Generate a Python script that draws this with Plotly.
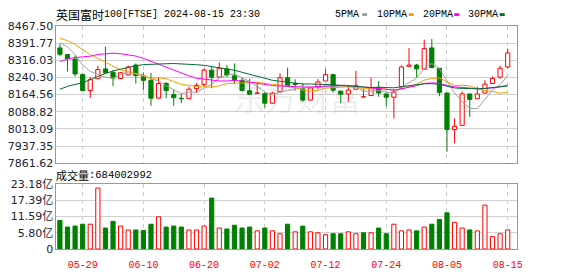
import plotly.graph_objects as go

# ---------------- data ----------------
dates = ["05-23", "05-24", "05-28", "05-29", "05-30", "05-31", "06-03", "06-04", "06-05", "06-06",
         "06-07", "06-10", "06-11", "06-12", "06-13", "06-14", "06-17", "06-18", "06-19", "06-20",
         "06-21", "06-24", "06-25", "06-26", "06-27", "06-28", "07-01", "07-02", "07-03", "07-04",
         "07-05", "07-08", "07-09", "07-10", "07-11", "07-12", "07-15", "07-16", "07-17", "07-18",
         "07-19", "07-22", "07-23", "07-24", "07-25", "07-26", "07-29", "07-30", "07-31", "08-01",
         "08-02", "08-05", "08-06", "08-07", "08-08", "08-09", "08-12", "08-13", "08-14", "08-15"]

opens = [8370.7, 8341.3, 8321.5, 8252.9, 8182.7, 8234.8, 8278.2, 8262.6, 8236.0, 8251.6,
         8295.0, 8244.5, 8227.7, 8149.0, 8213.7, 8164.6, 8148.5, 8146.5, 8191.0, 8209.6,
         8272.7, 8241.6, 8278.2, 8247.4, 8227.7, 8181.4, 8170.0, 8168.8, 8126.7, 8177.0,
         8239.0, 8213.7, 8191.0, 8140.5, 8199.5, 8224.7, 8252.9, 8180.0, 8167.5, 8188.5,
         8154.0, 8160.4, 8196.9, 8167.5, 8153.2, 8199.5, 8289.5, 8295.0, 8276.9, 8370.7,
         8281.0, 8171.7, 8010.2, 8028.7, 8167.5, 8146.5, 8171.7, 8213.7, 8241.6, 8286.6]
highs = [8387.6, 8343.0, 8337.0, 8258.4, 8241.6, 8292.0, 8376.2, 8272.7, 8264.0, 8293.0,
         8302.0, 8262.6, 8260.0, 8241.6, 8220.5, 8185.6, 8167.5, 8199.5, 8216.3, 8281.0,
         8286.6, 8306.4, 8295.0, 8302.0, 8241.6, 8234.8, 8219.0, 8174.0, 8177.0, 8258.4,
         8283.6, 8231.9, 8216.3, 8195.0, 8233.0, 8278.2, 8253.5, 8181.0, 8205.4, 8269.7,
         8188.5, 8239.0, 8224.7, 8170.0, 8188.5, 8293.7, 8370.7, 8300.0, 8407.3, 8409.9,
         8282.0, 8173.0, 8059.4, 8178.4, 8168.0, 8199.5, 8227.7, 8244.5, 8292.0, 8367.8]
lows = [8334.1, 8266.8, 8244.5, 8181.5, 8149.0, 8233.5, 8258.0, 8202.4, 8234.0, 8250.0,
        8213.7, 8185.6, 8115.3, 8147.0, 8149.0, 8115.3, 8126.7, 8145.0, 8171.7, 8199.5,
        8192.7, 8240.0, 8241.6, 8210.8, 8181.0, 8165.0, 8169.0, 8107.0, 8125.0, 8171.7,
        8202.0, 8182.7, 8132.2, 8139.0, 8188.5, 8224.0, 8174.0, 8126.7, 8132.2, 8187.0,
        8153.0, 8159.0, 8154.9, 8112.8, 8059.4, 8188.5, 8289.0, 8241.6, 8276.0, 8282.0,
        8157.4, 7912.1, 7950.0, 8027.0, 8066.5, 8145.0, 8170.0, 8212.0, 8234.8, 8281.0]
closes = [8342.5, 8323.2, 8255.9, 8182.7, 8230.6, 8275.2, 8261.3, 8237.4, 8261.3, 8286.0,
          8248.7, 8227.7, 8149.0, 8213.7, 8182.7, 8150.7, 8146.0, 8188.5, 8205.4, 8272.7,
          8241.6, 8281.0, 8251.6, 8230.6, 8182.7, 8165.8, 8172.0, 8126.7, 8171.7, 8239.0,
          8203.7, 8209.6, 8140.5, 8194.0, 8220.5, 8252.9, 8184.3, 8165.8, 8184.3, 8205.4,
          8155.0, 8195.3, 8171.7, 8153.2, 8175.9, 8286.6, 8295.0, 8278.2, 8367.8, 8283.6,
          8174.2, 8010.2, 8024.5, 8167.5, 8143.5, 8167.5, 8210.8, 8236.0, 8281.0, 8348.4]
# closes of the 29 sessions before the window, used only for the moving averages
lead_closes = [7923.8, 7995.6, 7965.5, 7820.4, 7848.0, 7877.1, 7895.9, 8023.9, 8044.8, 8040.4,
               8078.9, 8139.8, 8147.0, 8144.1, 8121.2, 8172.2, 8213.5, 8313.7, 8354.1, 8381.4,
               8433.8, 8415.0, 8428.1, 8445.8, 8438.7, 8420.3, 8424.2, 8416.5, 8370.3]
# volume in 亿 (1e8)
volumes = [10.2, 7.84, 8.2, 8.86, 8.86, 21.8, 7.5, 9.9, 8.2, 6.8,
           6.8, 6.6, 8.86, 11.5, 7.84, 8.2, 7.84, 6.8, 6.8, 8.2,
           18.2, 7.5, 7.16, 8.5, 7.5, 7.84, 6.5, 7.5, 6.5, 5.45,
           8.86, 6.14, 8.18, 6.14, 5.8, 5.11, 5.45, 5.45, 6.14, 5.45,
           5.8, 5.8, 7.5, 5.45, 8.86, 6.48, 6.82, 6.48, 7.84, 8.86,
           10.57, 12.95, 9.55, 7.5, 6.82, 6.48, 15.68, 4.43, 5.45, 6.84002992]

price_ticks = [7861.62, 7937.35, 8013.09, 8088.82, 8164.56, 8240.30, 8316.03, 8391.77, 8467.50]
vol_ticks = [0, 5.80, 11.59, 17.39, 23.18]
ma_periods = [5, 10, 20, 30]
ma_names = ["5PMA", "10PMA", "20PMA", "30PMA"]
ma_colors = ["#a0a0a0", "#f5a000", "#ff00ff", "#006e32"]
title_cn = "英国富时"
title_rest = "100[FTSE] 2024-08-15 23:30"

RED = "#ff0000"
GREEN = "#008000"

# ---------------- figure ----------------
W, H = 578, 276
n = len(dates)
xi = list(range(n))
fig = go.Figure()

# wicks (split above/below body so hollow bodies stay hollow)
for up, col in [(True, RED), (False, GREEN)]:
    xs, ys = [], []
    for i in range(n):
        is_up = closes[i] >= opens[i]
        if is_up != up:
            continue
        top = max(opens[i], closes[i])
        bot = min(opens[i], closes[i])
        xs += [xi[i], xi[i], None, xi[i], xi[i], None]
        ys += [highs[i], top, None, bot, lows[i], None]
    fig.add_trace(go.Scatter(x=xs, y=ys, mode="lines", line=dict(color=col, width=1),
                             hoverinfo="skip", showlegend=False, xaxis="x", yaxis="y"))

# bodies
body_base = [min(o, c) for o, c in zip(opens, closes)]
body_h = [abs(c - o) for o, c in zip(opens, closes)]
body_fill = ["white" if c >= o else GREEN for o, c in zip(opens, closes)]
body_line = [RED if c >= o else GREEN for o, c in zip(opens, closes)]
fig.add_trace(go.Bar(x=xi, y=body_h, base=body_base, width=0.55,
                     marker=dict(color=body_fill, line=dict(color=body_line, width=1)),
                     showlegend=False, hoverinfo="skip", xaxis="x", yaxis="y"))

# moving averages
all_closes = lead_closes + closes
L = len(lead_closes)
for p, name, col in zip(ma_periods, ma_names, ma_colors):
    vals = []
    for i in range(n):
        k = L + i
        vals.append(sum(all_closes[k - p + 1:k + 1]) / p)
    fig.add_trace(go.Scatter(x=xi, y=vals, mode="lines", name=name,
                             line=dict(color=col, width=1), hoverinfo="skip",
                             showlegend=False, xaxis="x", yaxis="y"))

# volume
prev = [lead_closes[-1]] + closes[:-1]
v_fill = ["white" if c >= pc else GREEN for c, pc in zip(closes, prev)]
v_line = [RED if c >= pc else GREEN for c, pc in zip(closes, prev)]
fig.add_trace(go.Bar(x=xi, y=volumes, width=0.55,
                     marker=dict(color=v_fill, line=dict(color=v_line, width=1)),
                     showlegend=False, hoverinfo="skip", xaxis="x2", yaxis="y2"))

xdom = [57 / W, 522 / W]
tick_pos = xi[3::8]
tick_txt = dates[3::8]
axis_common = dict(showline=True, mirror=True, linecolor="#999999", linewidth=1, zeroline=False)

fig.update_layout(
    width=W, height=H, margin=dict(l=0, r=0, t=0, b=0),
    paper_bgcolor="white", plot_bgcolor="white", barmode="overlay",
    showlegend=False,
    xaxis=dict(domain=xdom, anchor="y", range=[-0.46, n - 1 + 1.17],
               tickvals=tick_pos, showticklabels=False, ticks="",
               showgrid=True, gridcolor="#cccccc", griddash="4px,4px", gridwidth=1, **axis_common),
    yaxis=dict(domain=[1 - 165 / H, 1 - 21 / H], anchor="x", range=[price_ticks[0], price_ticks[-1]],
               tickvals=price_ticks, ticktext=[f"{v:.2f}" for v in price_ticks], ticks="",
               tickfont=dict(family="DejaVu Sans", size=11, color="#222233"),
               showgrid=True, gridcolor="#d0d0d0", gridwidth=1, **axis_common),
    xaxis2=dict(domain=xdom, anchor="y2", matches="x",
                tickvals=tick_pos, ticktext=tick_txt, ticks="", tickangle=0,
                ticklabelstandoff=6,
                tickfont=dict(family="Liberation Mono", size=10, color=RED),
                showgrid=True, gridcolor="#cccccc", griddash="4px,4px", gridwidth=1, **axis_common),
    yaxis2=dict(domain=[1 - 255 / H, 1 - 187 / H], anchor="x2", range=[0, vol_ticks[-1]],
                tickvals=vol_ticks, ticktext=["0"] + [f"{v:.2f}亿" for v in vol_ticks[1:]], ticks="",
                tickfont=dict(family="DejaVu Sans, Noto Sans CJK SC", size=11, color="#222233"),
                showgrid=True, gridcolor="#d0d0d0", gridwidth=1, **axis_common),
)

ann = []
def px_ann(text, x, y, family, size, color="#000000", xanchor="left"):
    ann.append(dict(text=text, x=x / W, y=1 - y / H, xref="paper", yref="paper",
                    xanchor=xanchor, yanchor="middle", showarrow=False,
                    font=dict(family=family, size=size, color=color), borderpad=0))

px_ann(title_cn, 56, 9, "Noto Sans CJK SC", 12)
px_ann(title_rest, 104, 9, "Liberation Mono", 10)
px_ann("成交量", 56, 177, "Noto Sans CJK SC", 11)
px_ann(":" + str(int(round(volumes[-1] * 1e8))), 89, 177, "Liberation Mono", 10.5)

legend_x = [338, 380, 426, 472]
swatch_x = [366, 413, 459, 505]
shapes = []
for name, col, lx, sx in zip(ma_names, ma_colors, legend_x, swatch_x):
    px_ann(name, lx, 9, "Liberation Mono", 10)
    shapes.append(dict(type="rect", xref="paper", yref="paper",
                       x0=sx / W, x1=(sx + 5) / W, y0=1 - 10.5 / H, y1=1 - 7.5 / H,
                       fillcolor=col, line=dict(width=0)))

# watermark
ann.append(dict(text="东方财富", x=300 / W, y=1 - 94 / H, xref="paper", yref="paper",
                xanchor="center", yanchor="middle", showarrow=False,
                font=dict(family="Noto Sans CJK SC", size=32, color="rgba(150,150,165,0.18)")))

fig.update_layout(annotations=ann, shapes=shapes)
fig.write_html("out.html", config={"displayModeBar": False})
